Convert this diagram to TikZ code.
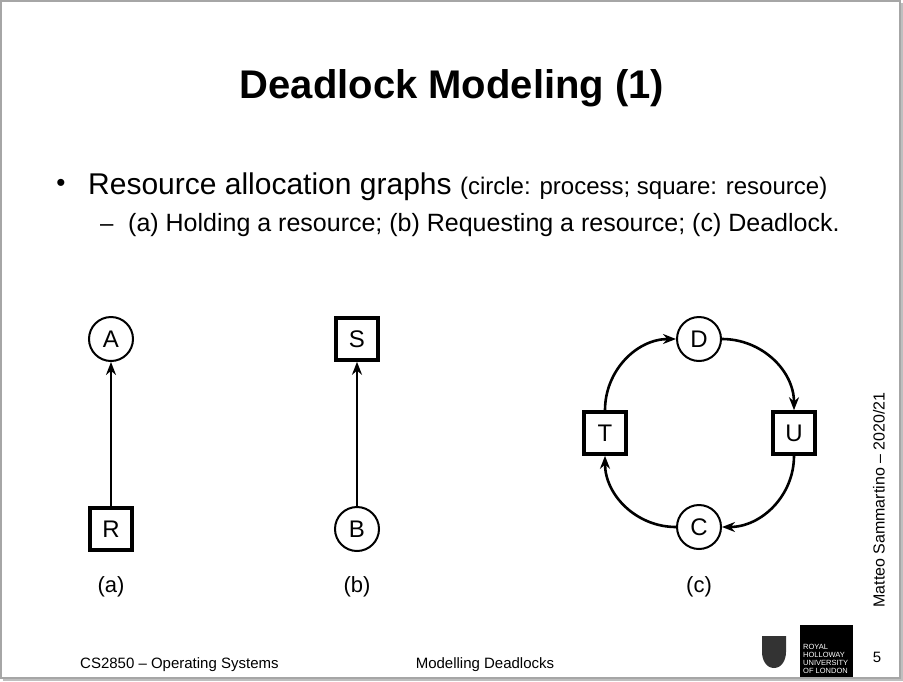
\documentclass[tikz,border=0pt]{standalone}
\usepackage{fontspec}
\setmainfont{Liberation Sans}
\usetikzlibrary{arrows.meta}
\usetikzlibrary{positioning}
\tikzstyle{proc_node} = [
    circle, 
    draw=black, 
    line width=2pt,
    font=\fontsize{24}{24}\selectfont, 
    inner sep=0pt, 
    minimum size=44pt
]
\tikzstyle{res_node} = [
    rectangle, 
    draw=black, 
    line width=3.6pt,
    font=\fontsize{24}{24}\selectfont, 
    inner sep=0pt, 
    minimum size=42pt
]
\tikzstyle{edge_arrow} = [
    line width=2.6pt,
    -{Stealth[length=13pt,width=10pt]}
]
\tikzstyle{caption} = [font=\fontsize{22}{22}\selectfont]

\begin{document}
\begin{tikzpicture}[x=1pt, y=-1pt]
\useasboundingbox (0,0) rectangle (903,681);
\fill[white] (0,0) rectangle (903,681);
% slide frame
\draw[gray!70, line width=1.5pt] (1,1) rectangle (900,678);
\draw[gray!50, line width=2pt] (3,680) -- (902,680) -- (902,3);

% title and bullets
\node[font=\fontsize{40}{40}\selectfont\bfseries] (title) at (452,88) {Deadlock Modeling (1)};
\node[font=\fontsize{26}{26}\selectfont] (dot) at (61,185) {•};
\node[anchor=base west, font=\fontsize{30}{30}\selectfont, inner sep=0pt] (bullet) at (88,194)
    {Resource allocation graphs {\fontsize{24}{24}\selectfont(circle: process; square: resource)}};
\node[anchor=base west, font=\fontsize{24}{24}\selectfont, inner sep=0pt] (dash) at (100,231) {–};
\node[anchor=base west, font=\fontsize{25}{25}\selectfont, inner sep=0pt] (sub) at (128,231)
    {(a) Holding a resource; (b) Requesting a resource; (c) Deadlock.};

% (a)
\node[proc_node] (A) at (111,339) {A};
\node[res_node] (R) at (111,529) {R};
\draw[edge_arrow] (R) -- (A);
\node[caption] (cap_a) at (111,587) {(a)};

% (b)
\node[res_node] (S) at (357,339) {S};
\node[proc_node] (B) at (357,529) {B};
\draw[edge_arrow] (B) -- (S);
\node[caption] (cap_b) at (357,587) {(b)};

% (c)
\node[proc_node] (D) at (699,339) {D};
\node[res_node] (U) at (794,433) {U};
\node[proc_node] (C) at (699,527) {C};
\node[res_node] (T) at (605,433) {T};
\draw[edge_arrow] (T.north) to[out=90, in=180] (D.west);
\draw[edge_arrow] (D.east) to[out=0, in=90] (U.north);
\draw[edge_arrow] (U.south) to[out=-90, in=0] (C.east);
\draw[edge_arrow] (C.west) to[out=180, in=-90] (T.south);
\node[caption] (cap_c) at (699,587) {(c)};

% side and footer
\node[rotate=90, font=\fontsize{16}{16}\selectfont] (author) at (879,500) {Matteo Sammartino – 2020/21};
\node[anchor=base west, font=\fontsize{15}{15}\selectfont, inner sep=0pt] (course) at (80,668) {CS2850 – Operating Systems};
\node[anchor=base, font=\fontsize{15}{15}\selectfont, inner sep=0pt] (topic) at (485,668) {Modelling Deadlocks};
\fill[black] (800,625) rectangle (853,677);
\node[anchor=south west, white, align=left, inner sep=0pt,
    font=\fontsize{7.5}{8}\selectfont] (logo) at (803,674) {ROYAL\\HOLLOWAY\\UNIVERSITY\\OF LONDON};
\fill[black!80] (762,636) -- (786,636) -- (786,652) to[out=-90, in=0] (774,668) to[out=180, in=-90] (762,652) -- cycle;
\node[font=\fontsize{15}{15}\selectfont] (page) at (877,657) {5};
\end{tikzpicture}
\end{document}
